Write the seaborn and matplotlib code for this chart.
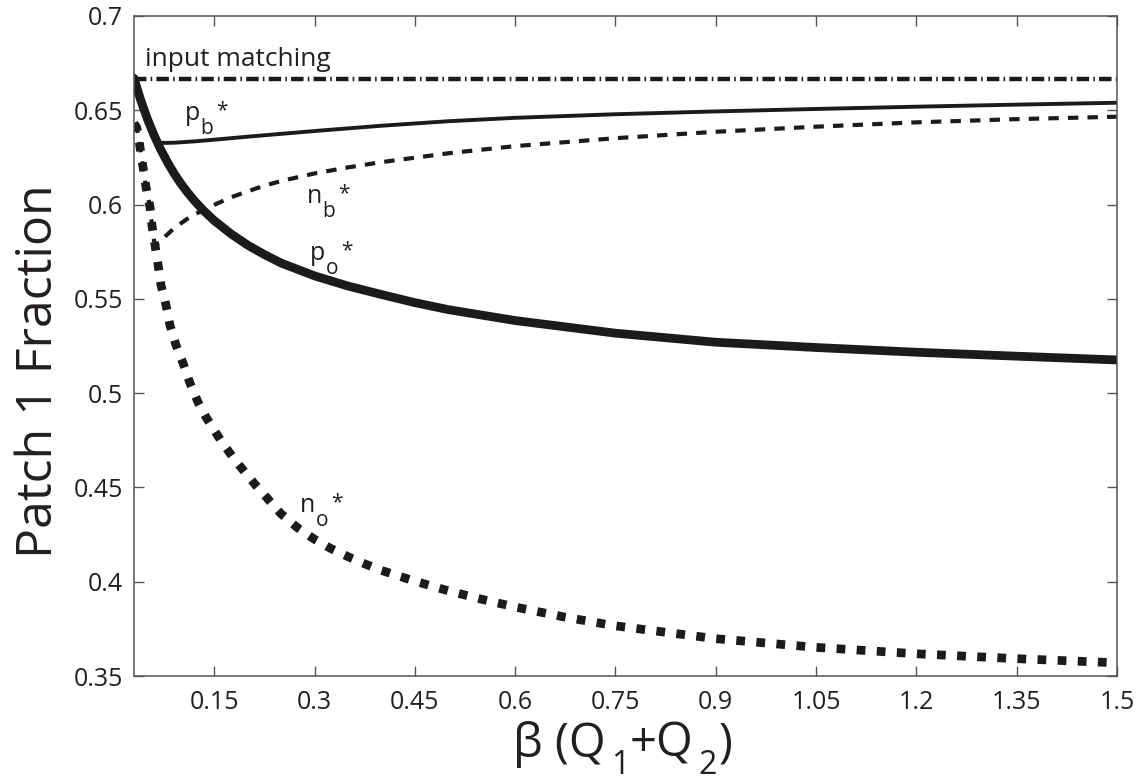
import matplotlib
matplotlib.use("Agg")
import matplotlib.pyplot as plt
import matplotlib.transforms as mtransforms
import seaborn as sns

# Curve samples: beta*(Q1+Q2) against patch 1 fraction
match_x = [0.03, 1.5]
match_y = [2 / 3, 2 / 3]

pb_x = [0.03, 0.04, 0.05, 0.06, 0.065, 0.075, 0.09, 0.12, 0.15, 0.2, 0.25, 0.3, 0.4, 0.5,
        0.6, 0.75, 0.9, 1.05, 1.2, 1.35, 1.5]
pb_y = [0.667, 0.6555, 0.6455, 0.6368, 0.633, 0.6327, 0.6328, 0.6335, 0.6344, 0.636, 0.6375,
        0.639, 0.6418, 0.6442, 0.646, 0.6479, 0.6494, 0.6507, 0.6519, 0.653, 0.654]

po_x = [0.03, 0.04, 0.05, 0.06, 0.07, 0.08, 0.09, 0.1, 0.11, 0.12, 0.133, 0.15, 0.175, 0.2,
        0.225, 0.25, 0.3, 0.35, 0.4, 0.45, 0.5, 0.6, 0.75, 0.9, 1.05, 1.2, 1.35, 1.5]
po_y = [0.667, 0.6555, 0.6455, 0.6368, 0.6292, 0.6225, 0.6165, 0.6112, 0.6065, 0.6022, 0.5972,
        0.5915, 0.5845, 0.5785, 0.5735, 0.569, 0.5622, 0.5568, 0.5523, 0.548, 0.5443, 0.5385,
        0.5318, 0.527, 0.5242, 0.5217, 0.5196, 0.5176]

nb_x = [0.03, 0.034, 0.037, 0.039, 0.0435, 0.048, 0.054, 0.057, 0.061, 0.066, 0.075, 0.09,
        0.11, 0.13, 0.154, 0.18, 0.2, 0.223, 0.25, 0.3, 0.35, 0.4, 0.5, 0.6, 0.75, 0.9, 1.05,
        1.2, 1.35, 1.5]
nb_y = [0.643, 0.641, 0.636, 0.6305, 0.6199, 0.6093, 0.5987, 0.5887, 0.5786, 0.5795, 0.5825,
        0.5875, 0.5925, 0.5965, 0.6005, 0.6045, 0.607, 0.6098, 0.6125, 0.6165, 0.6197, 0.6225,
        0.6272, 0.631, 0.6352, 0.6386, 0.6413, 0.6436, 0.6453, 0.6466]

no_x = [0.03, 0.034, 0.037, 0.039, 0.0435, 0.048, 0.054, 0.057, 0.0614, 0.0659, 0.0704,
        0.0779, 0.0838, 0.0928, 0.1033, 0.1137, 0.1257, 0.1377, 0.16, 0.18, 0.2, 0.2135, 0.25,
        0.275, 0.3, 0.325, 0.35, 0.375, 0.4, 0.45, 0.5, 0.55, 0.6, 0.675, 0.75, 0.9, 1.05,
        1.2, 1.35, 1.5]
no_y = [0.643, 0.641, 0.636, 0.6305, 0.6199, 0.6093, 0.5987, 0.5887, 0.5786, 0.5684, 0.5573,
        0.5467, 0.5361, 0.5255, 0.516, 0.5054, 0.4953, 0.4873, 0.4748, 0.465, 0.4563, 0.4506,
        0.436, 0.4285, 0.4225, 0.4175, 0.4133, 0.4095, 0.406, 0.4003, 0.3952, 0.3907, 0.3866,
        0.3812, 0.3766, 0.3698, 0.3652, 0.3618, 0.3592, 0.357]

x_ticks = [0.15, 0.3, 0.45, 0.6, 0.75, 0.9, 1.05, 1.2, 1.35, 1.5]
x_tick_labels = ["0.15", "0.3", "0.45", "0.6", "0.75", "0.9", "1.05", "1.2", "1.35", "1.5"]
y_ticks = [0.35, 0.4, 0.45, 0.5, 0.55, 0.6, 0.65, 0.7]
y_tick_labels = ["0.35", "0.4", "0.45", "0.5", "0.55", "0.6", "0.65", "0.7"]

# (letter, subscript, x, y of the letter's baseline start)
curve_labels = [
    ("p", "b", 0.1063, 0.6448),
    ("n", "b", 0.2887, 0.6008),
    ("p", "o", 0.2932, 0.5706),
    ("n", "o", 0.2782, 0.4370),
]

sns.set_style("white")
plt.rcParams["font.family"] = ["Open Sans", "DejaVu Sans"]

ink = "#1c1a1a"
text_col = "#231f20"
axis_col = "#555555"

fig = plt.figure(figsize=(11.44, 7.8), dpi=100)
ax = fig.add_axes([0.1171, 0.1333, 0.8593, 0.8462])

sns.lineplot(x=match_x, y=match_y, ax=ax, color=ink, linewidth=3.2,
             linestyle=(0, (2.8, 0.95, 0.35, 0.95)))
sns.lineplot(x=pb_x, y=pb_y, ax=ax, color=ink, linewidth=2.8, sort=False)
sns.lineplot(x=nb_x, y=nb_y, ax=ax, color=ink, linewidth=3.0, sort=False,
             linestyle=(0, (2.5, 2.2)))
sns.lineplot(x=po_x, y=po_y, ax=ax, color=ink, linewidth=6.3, sort=False)
sns.lineplot(x=no_x, y=no_y, ax=ax, color=ink, linewidth=6.3, sort=False,
             linestyle=(0, (1.0, 1.3)))

ax.set_xlim(0.03, 1.5)
ax.set_ylim(0.35, 0.7)
ax.set_xticks(x_ticks)
ax.set_xticklabels(x_tick_labels)
ax.set_yticks(y_ticks)
ax.set_yticklabels(y_tick_labels)

for side in ["left", "right", "top", "bottom"]:
    ax.spines[side].set_visible(True)
    ax.spines[side].set_color(axis_col)
    ax.spines[side].set_linewidth(1.1)

ax.tick_params(axis="both", which="both", direction="in", length=7, width=1.0,
               color=axis_col, labelsize=18, labelcolor=text_col,
               top=True, right=True, left=True, bottom=True)
ax.tick_params(axis="x", pad=10)
ax.tick_params(axis="y", pad=8)

ax.set_ylabel("Patch 1 Fraction", fontsize=36, color=text_col)
ax.yaxis.set_label_coords(-0.071, 0.462)

ax.text(0.046, 0.6734, "input matching", fontsize=19, color=text_col,
        ha="left", va="baseline")

renderer = fig.canvas.get_renderer()
pix = mtransforms.IdentityTransform()


def chain_text(pieces, x_px, base_px):
    """Lay out text pieces left to right; each piece is (text, size, drop_px, gap_px)."""
    for txt, size, drop, gap in pieces:
        t = fig.text(x_px, base_px - drop, txt, fontsize=size, color=text_col,
                     ha="left", va="baseline", transform=pix)
        bb = t.get_window_extent(renderer)
        x_px = bb.x1 + gap


for letter, sub, lx, ly in curve_labels:
    px, py = ax.transData.transform((lx, ly))
    chain_text([(letter, 18, 0, 0.5), (sub, 15, 14, 2.5), ("*", 15, -4, 0)], px, py)

# axis title under the x tick labels: β (Q1+Q2) with lowered indices
chain_text([("β (Q", 34, 0, 5), ("1", 23, 17, 1), ("+Q", 34, 0, 5), ("2", 23, 17, 1),
            (")", 34, 0, 0)], 513, 780 - 757)

ax.set_facecolor("white")
fig.patch.set_facecolor("white")
fig.savefig("out.png", dpi=100)
